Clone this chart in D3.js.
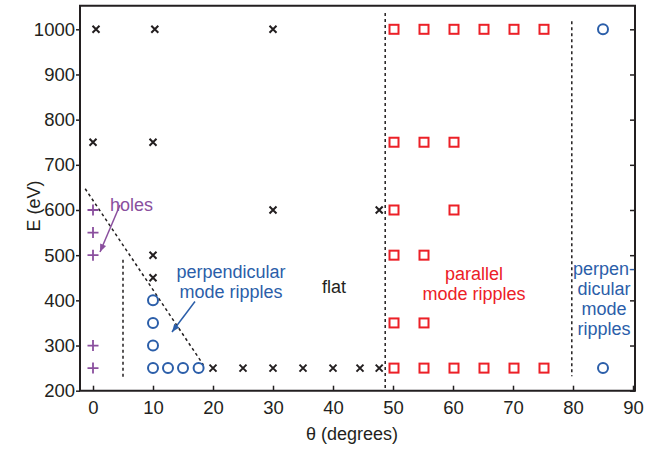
<!DOCTYPE html>
<html><head><meta charset="utf-8">
<script src="https://cdn.jsdelivr.net/npm/d3@7"></script>
<style>body{margin:0;background:#fff}svg{display:block}text{font-family:"Liberation Sans",Arial,Helvetica,sans-serif}</style>
</head><body><svg id="c" width="645" height="450"></svg>
<script>
// Data
const flatTheta   = [0.5,10.3,30,0,10,30,47.7,10,10,20,25,30,35,40,44.5,47.7];
const flatE       = [1000,1000,1000,750,750,600,600,500,450,250,250,250,250,250,250,250];
const holesTheta  = [0,0,0,0,0];
const holesE      = [600,550,500,300,250];
const perpTheta   = [10,10,10,10,12.5,15,17.6,85,85];
const perpE       = [400,350,300,250,250,250,250,1000,250];
const paraTheta   = [50,55,60,65,70,75,50,55,60,50,60,50,55,50,55,50,55,60,65,70,75];
const paraE       = [1000,1000,1000,1000,1000,1000,750,750,750,600,600,500,500,350,350,250,250,250,250,250,250];
const xTicks = [0,10,20,30,40,50,60,70,80,90];
const yTicks = [200,300,400,500,600,700,800,900,1000];
const boundaryLines = [
  {x1:48.7,y1:1036,x2:48.7,y2:200},
  {x1:79.8,y1:1018,x2:79.8,y2:232},
  {x1:5,y1:490,x2:5,y2:228},
  {x1:-1.3,y1:647,x2:18.4,y2:257}
];

const ink="#231f20", purple="#8a4f9e", blue="#2b5ea9", red="#ec2027";
const svg=d3.select("#c");
const x=d3.scaleLinear().domain([0,90]).range([93,633]);
const y=d3.scaleLinear().domain([200,1000]).range([390.7,29.3]);
const L=80,R=635,T=y(1052),B=y(200);

// dashed boundaries
svg.append("g").selectAll("line").data(boundaryLines).join("line")
  .attr("x1",d=>x(d.x1)).attr("y1",d=>y(d.y1)).attr("x2",d=>x(d.x2)).attr("y2",d=>y(d.y2))
  .attr("stroke",ink).attr("stroke-width",1.5).attr("stroke-dasharray","3,3");

// axes
const fmt=d3.format("d");
const gx=svg.append("g").attr("transform",`translate(0,${B})`)
  .call(d3.axisBottom(x).tickValues(xTicks).tickFormat(fmt).tickSize(-5).tickPadding(10).tickSizeOuter(0));
const gy=svg.append("g").attr("transform",`translate(${L},0)`)
  .call(d3.axisLeft(y).tickValues(yTicks).tickFormat(fmt).tickSize(4).tickPadding(1).tickSizeOuter(0));
const gr=svg.append("g").attr("transform",`translate(${R},0)`)
  .call(d3.axisRight(y).tickValues(yTicks).tickSize(-5).tickFormat("").tickSizeOuter(0));
[gx,gy,gr].forEach(g=>{g.attr("font-size",18.5).attr("font-family","'Liberation Sans',Arial,sans-serif");
  g.select(".domain").remove();g.selectAll("line").attr("stroke",ink).attr("stroke-width",1.5);
  g.selectAll("text").attr("fill",ink);});
gx.selectAll("text").attr("dy","0.71em");
// frame
svg.append("path").attr("d",`M${L},${T}H${R}V${B}H${L}Z`).attr("fill","none").attr("stroke",ink).attr("stroke-width",2);

// markers
const idx=a=>a.map((_,i)=>i);
const cs=3.5;
svg.append("g").selectAll("path").data(idx(flatTheta)).join("path")
  .attr("d",i=>{const cx=x(flatTheta[i]),cy=y(flatE[i]);return `M${cx-cs},${cy-cs}L${cx+cs},${cy+cs}M${cx-cs},${cy+cs}L${cx+cs},${cy-cs}`;})
  .attr("stroke",ink).attr("stroke-width",2).attr("fill","none");
const ps=5.5;
svg.append("g").selectAll("path").data(idx(holesTheta)).join("path")
  .attr("d",i=>{const cx=x(holesTheta[i]),cy=y(holesE[i]);return `M${cx-ps},${cy}H${cx+ps}M${cx},${cy-ps}V${cy+ps}`;})
  .attr("stroke",purple).attr("stroke-width",1.8).attr("fill","none");
svg.append("g").selectAll("circle").data(idx(perpTheta)).join("circle")
  .attr("cx",i=>x(perpTheta[i])).attr("cy",i=>y(perpE[i])).attr("r",5)
  .attr("stroke",blue).attr("stroke-width",2).attr("fill","none");
svg.append("g").selectAll("rect").data(idx(paraTheta)).join("rect")
  .attr("x",i=>x(paraTheta[i])+1-4.5).attr("y",i=>y(paraE[i])-4.5).attr("width",9).attr("height",9)
  .attr("stroke",red).attr("stroke-width",2).attr("fill","none");

// annotations
function txt(lines,cx,by,color,lh=20){
  const t=svg.append("text").attr("text-anchor","middle").attr("fill",color).attr("font-size",18);
  lines.forEach((s,i)=>t.append("tspan").attr("x",cx).attr("y",by+i*lh).text(s));
}
txt(["holes"],131.5,211,purple);
txt(["perpendicular","mode ripples"],231,278,blue);
txt(["flat"],334,293,ink);
txt(["parallel","mode ripples"],474,280,red);
txt(["perpen-","dicular","mode","ripples"],604,275,blue);

function arrow(x1,y1,x2,y2,color){
  svg.append("line").attr("x1",x1).attr("y1",y1).attr("x2",x2).attr("y2",y2).attr("stroke",color).attr("stroke-width",1.5);
  const a=Math.atan2(y2-y1,x2-x1),h=8,w=3.2;
  const bx=x2-h*Math.cos(a),by=y2-h*Math.sin(a);
  svg.append("path").attr("d",`M${x2},${y2}L${bx+w*Math.sin(a)},${by-w*Math.cos(a)}L${bx-w*Math.sin(a)},${by+w*Math.cos(a)}Z`).attr("fill",color);
}
arrow(120,205,100,252,purple);
arrow(195,301.5,172,332,blue);

// axis titles
svg.append("text").attr("text-anchor","middle").attr("x",352).attr("y",440).attr("fill",ink).attr("font-size",18).text("θ (degrees)");
svg.append("text").attr("text-anchor","middle").attr("transform","translate(40,206) rotate(-90)").attr("fill",ink).attr("font-size",18).text("E (eV)");
</script></body></html>
